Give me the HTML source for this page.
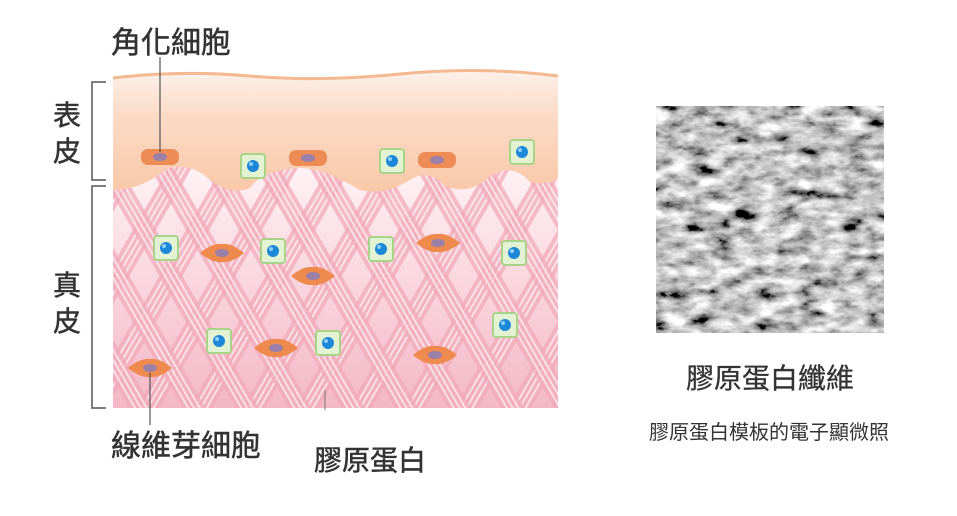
<!DOCTYPE html>
<html><head><meta charset="utf-8"><style>
html,body{margin:0;padding:0;background:#fff;width:957px;height:516px;overflow:hidden}
svg{position:absolute;left:0;top:0}
.t{font-family:"Liberation Sans","Noto Sans CJK TC",sans-serif;fill:#333}
</style></head><body>
<svg width="957" height="516" viewBox="0 0 957 516">
<defs>
<linearGradient id="dbg" x1="0" y1="0" x2="0" y2="1">
<stop offset="0" stop-color="#fff4f6"/><stop offset="1" stop-color="#f4b7c6"/>
</linearGradient>
<linearGradient id="epi" x1="0" y1="0" x2="0" y2="1">
<stop offset="0" stop-color="#fdf1ea"/><stop offset="0.35" stop-color="#fbdcc8"/><stop offset="1" stop-color="#f9c8a8"/>
</linearGradient>
<pattern id="pa" width="46" height="46" patternUnits="userSpaceOnUse" patternTransform="rotate(30)">
<rect x="0" y="0" width="20" height="46" fill="#f1a9b9" opacity="0.75"/>
<rect x="4" y="0" width="2" height="46" fill="#fff" opacity="0.6"/>
<rect x="9" y="0" width="2" height="46" fill="#fff" opacity="0.6"/>
<rect x="14" y="0" width="2" height="46" fill="#fff" opacity="0.6"/>
</pattern>
<pattern id="pb" width="46" height="46" patternUnits="userSpaceOnUse" patternTransform="rotate(-30)">
<rect x="0" y="0" width="20" height="46" fill="#f1a9b9" opacity="0.75"/>
<rect x="4" y="0" width="2" height="46" fill="#fff" opacity="0.6"/>
<rect x="9" y="0" width="2" height="46" fill="#fff" opacity="0.6"/>
<rect x="14" y="0" width="2" height="46" fill="#fff" opacity="0.6"/>
</pattern>
<filter id="sem" x="0" y="0" width="1" height="1">
<feTurbulence type="fractalNoise" baseFrequency="0.045 0.09" numOctaves="4" seed="7"/>
<feColorMatrix type="matrix" values="0.33 0.33 0.33 0 0  0.33 0.33 0.33 0 0  0.33 0.33 0.33 0 0  0 0 0 0 1"/>
<feComponentTransfer><feFuncR type="linear" slope="3.2" intercept="-1.05"/><feFuncG type="linear" slope="3.2" intercept="-1.05"/><feFuncB type="linear" slope="3.2" intercept="-1.05"/></feComponentTransfer>
</filter>
<g id="gc"><rect x="-12" y="-12" width="24" height="24" rx="3" fill="#e4f2d4" stroke="#a8d48a" stroke-width="2"/><circle r="6" fill="#1e88d8"/><circle cx="-2" cy="-2" r="2" fill="#8fd0ff"/></g>
<g id="sp"><path d="M-22 0 Q-10 -10 0 -9 Q10 -10 22 0 Q10 10 0 9 Q-10 10 -22 0Z" fill="#ef8a4e"/><ellipse rx="7" ry="4" fill="#9a7fa8"/></g>
<g id="ep"><rect x="-19" y="-8" width="38" height="16" rx="7" fill="#ee8c55"/><ellipse rx="7" ry="4" fill="#9a7fa8"/></g>
</defs>
<rect x="113" y="160" width="445" height="248" fill="url(#dbg)"/>
<rect x="113" y="160" width="445" height="248" fill="url(#pa)"/>
<rect x="113" y="160" width="445" height="248" fill="url(#pb)"/>
<path d="M113 78 Q180 70 250 76 T400 74 T558 76 L558 178 Q548 186 530 182 Q512 162 490 176 Q470 196 445 186 Q428 168 410 180 Q385 196 360 190 Q320 166 295 168 Q260 172 250 188 Q232 196 210 180 Q188 160 165 170 Q140 190 113 190 Z" fill="url(#epi)"/>
<path d="M113 78 Q180 70 250 76 T400 74 T558 76" fill="none" stroke="#f3b990" stroke-width="3"/>
<use href="#ep" x="160" y="157"/><use href="#ep" x="308" y="158"/><use href="#ep" x="437" y="160"/>
<use href="#gc" x="253" y="166"/><use href="#gc" x="392" y="161"/><use href="#gc" x="522" y="152"/>
<use href="#gc" x="166" y="248"/><use href="#gc" x="273" y="251"/><use href="#gc" x="381" y="249"/><use href="#gc" x="514" y="253"/>
<use href="#gc" x="219" y="341"/><use href="#gc" x="328" y="343"/><use href="#gc" x="505" y="325"/>
<use href="#sp" x="222" y="253"/><use href="#sp" x="438" y="243"/><use href="#sp" x="313" y="276"/>
<use href="#sp" x="276" y="348"/><use href="#sp" x="435" y="355"/><use href="#sp" x="150" y="368"/>
<line x1="160" y1="57" x2="160" y2="152" stroke="#555" stroke-width="1.2"/>
<line x1="150" y1="373" x2="150" y2="425" stroke="#555" stroke-width="1.2"/>
<line x1="325" y1="390" x2="325" y2="410" stroke="#777" stroke-width="1"/>
<path d="M106 82 L92 82 L92 180 L106 180" fill="none" stroke="#555" stroke-width="1.5"/>
<path d="M106 186 L92 186 L92 408 L106 408" fill="none" stroke="#555" stroke-width="1.5"/>
<g stroke="#333" stroke-width="0.5">
<text class="t" x="53" y="125" font-size="28">表</text>
<text class="t" x="53" y="161" font-size="28">皮</text>
<text class="t" x="53" y="295" font-size="28">真</text>
<text class="t" x="53" y="331" font-size="28">皮</text>
<text class="t" x="111" y="53" font-size="30">角化細胞</text>
<text class="t" x="111" y="456" font-size="30">線維芽細胞</text>
<text class="t" x="314" y="470" font-size="28">膠原蛋白</text>
</g>
<rect x="656" y="106" width="228" height="227" fill="#666"/>
<rect x="656" y="106" width="228" height="227" filter="url(#sem)"/>
<text class="t" x="686" y="388" font-size="28" stroke="#333" stroke-width="0.3">膠原蛋白纖維</text>
<text class="t" x="649" y="439" font-size="20">膠原蛋白模板的電子顯微照</text>
</svg>
</body></html>
